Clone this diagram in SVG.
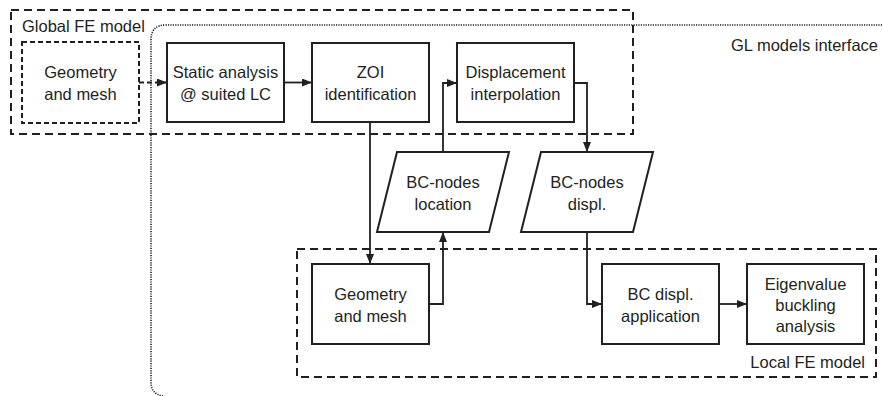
<svg xmlns="http://www.w3.org/2000/svg" width="883" height="396" viewBox="0 0 883 396">
<style>
  text { font-family: "Liberation Sans", Arial, sans-serif; font-size: 16.5px; fill: #231f20; }
  .c { text-anchor: middle; }
  .box { fill: #ffffff; stroke: #231f20; stroke-width: 2; }
  .dbox { fill: #ffffff; stroke: #231f20; stroke-width: 2; stroke-dasharray: 5 3; }
  .region { fill: none; stroke: #231f20; stroke-width: 2; stroke-dasharray: 8 5; }
  .iface { fill: none; stroke: #231f20; stroke-width: 1.6; stroke-dasharray: 1.2 1.2; }
  .conn { fill: none; stroke: #231f20; stroke-width: 1.8; marker-end: url(#ah); }
  .connd { fill: none; stroke: #231f20; stroke-width: 1.8; stroke-dasharray: 5 3; marker-end: url(#ah); }
</style>
<defs>
  <marker id="ah" markerUnits="userSpaceOnUse" markerWidth="10" markerHeight="8" refX="10" refY="4" orient="auto">
    <path d="M0,0 L10,4 L0,8 z" fill="#231f20"/>
  </marker>
</defs>
<rect width="883" height="396" fill="#ffffff"/>

<g id="global-region">
  <rect class="region" x="11" y="10" width="622" height="124"/>
  <text x="22" y="32">Global FE model</text>
</g>
<g id="local-region">
  <rect class="region" x="297" y="249" width="579" height="128"/>
  <text x="865" y="368" text-anchor="end">Local FE model</text>
</g>
<g id="gl-interface">
  <path class="iface" d="M882 25 H166 Q151 25 151 40 V382 Q151 394 163 396"/>
  <text x="878" y="51" text-anchor="end">GL models interface</text>
</g>

<g id="connectors">
  <path class="connd" d="M139 82.5 H167"/>
  <path class="conn" d="M284 82.5 H312"/>
  <path class="conn" d="M370 122 V264"/>
  <path class="conn" d="M429 304 H443 V232"/>
  <path class="conn" d="M443 152 V83 H457"/>
  <path class="conn" d="M574 83 H587 V152"/>
  <path class="conn" d="M587 232 V304 H602"/>
  <path class="conn" d="M719 304 H747"/>
</g>

<g id="global-geometry">
  <rect class="dbox" x="22" y="42" width="117" height="81"/>
  <text class="c" x="80.5" y="78">Geometry</text>
  <text class="c" x="80.5" y="100">and mesh</text>
</g>
<g id="static-analysis">
  <rect class="box" x="167" y="43" width="117" height="79"/>
  <text class="c" x="225.5" y="78">Static analysis</text>
  <text class="c" x="225.5" y="100">@ suited LC</text>
</g>
<g id="zoi">
  <rect class="box" x="312" y="43" width="117" height="79"/>
  <text class="c" x="370.5" y="78">ZOI</text>
  <text class="c" x="370.5" y="100">identification</text>
</g>
<g id="displacement-interpolation">
  <rect class="box" x="457" y="43" width="117" height="79"/>
  <text class="c" x="515.5" y="78">Displacement</text>
  <text class="c" x="515.5" y="100">interpolation</text>
</g>
<g id="bc-nodes-location">
  <polygon class="box" points="397,152 509,152 489,232 377,232"/>
  <text class="c" x="443" y="188">BC-nodes</text>
  <text class="c" x="443" y="210">location</text>
</g>
<g id="bc-nodes-displ">
  <polygon class="box" points="541,152 653,152 633,232 521,232"/>
  <text class="c" x="587" y="188">BC-nodes</text>
  <text class="c" x="587" y="210">displ.</text>
</g>
<g id="local-geometry">
  <rect class="box" x="312" y="264" width="117" height="80"/>
  <text class="c" x="370.5" y="300">Geometry</text>
  <text class="c" x="370.5" y="322">and mesh</text>
</g>
<g id="bc-displ-application">
  <rect class="box" x="602" y="264" width="117" height="80"/>
  <text class="c" x="660.5" y="300">BC displ.</text>
  <text class="c" x="660.5" y="322">application</text>
</g>
<g id="eigenvalue-buckling">
  <rect class="box" x="747" y="264" width="117" height="80"/>
  <text class="c" x="805.5" y="290">Eigenvalue</text>
  <text class="c" x="805.5" y="311">buckling</text>
  <text class="c" x="805.5" y="332">analysis</text>
</g>
</svg>
